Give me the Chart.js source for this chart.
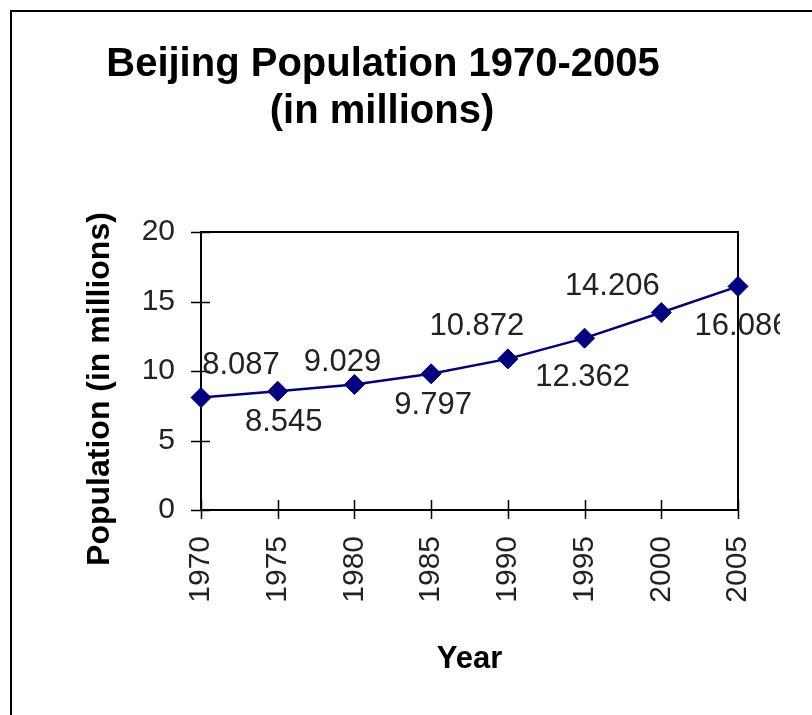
<!DOCTYPE html>
<html>
<head>
<meta charset="utf-8">
<script src="https://cdn.jsdelivr.net/npm/chart.js@4"></script>
<style>
    body { margin: 0; background: #fff; }
    canvas { display: block; }
</style>
</head>
<body>
<canvas id="popChart" width="812" height="715"></canvas>
<script>
const years = ['1970', '1975', '1980', '1985', '1990', '1995', '2000', '2005'];
const population = [8.087, 8.545, 9.029, 9.797, 10.872, 12.362, 14.206, 16.086];
const valueLabels = ['8.087', '8.545', '9.029', '9.797', '10.872', '12.362', '14.206', '16.086'];
const titleLines = ['Beijing Population 1970-2005', '(in millions)'];
const yTitle = 'Population (in millions)';
const xTitle = 'Year';

// hand-placed label nudges, like the original sheet (dx, dy from the point)
const labelNudge = [[40, -32], [6, 31], [-12, -22], [2, 32], [-31, -32], [-2, 39], [-49, -26], [4, 40]];

const textFont = '"Liberation Sans", Arial, sans-serif';

const framePlugin = {
    id: 'frame',
    beforeDraw(chart) {
        const ctx = chart.ctx;
        ctx.save();
        ctx.fillStyle = '#fff';
        ctx.fillRect(0, 0, chart.width, chart.height);
        // outer page border (left + top)
        ctx.fillStyle = '#000';
        ctx.fillRect(10, 10, 2, chart.height);
        ctx.fillRect(10, 10, chart.width, 2);
        ctx.restore();
    },
    beforeDatasetsDraw(chart) {
        const { ctx, chartArea: a, scales } = chart;
        ctx.save();
        ctx.strokeStyle = '#000';
        ctx.lineWidth = 2;
        ctx.beginPath();
        ctx.moveTo(a.left - 1, a.top);
        ctx.lineTo(a.right, a.top);
        ctx.lineTo(a.right, a.bottom);
        ctx.stroke();

        // cross ticks
        ctx.lineWidth = 1.5;
        ctx.beginPath();
        scales.y.ticks.forEach(t => {
            const py = Math.round(scales.y.getPixelForValue(t.value)) + 0.5;
            ctx.moveTo(a.left - 10, py);
            ctx.lineTo(a.left + 9, py);
        });
        years.forEach((yr, i) => {
            const px = Math.round(scales.x.getPixelForValue(i)) + 0.5;
            ctx.moveTo(px, a.bottom - 10);
            ctx.lineTo(px, a.bottom + 9);
        });
        ctx.stroke();
        ctx.restore();
    },
    afterDatasetsDraw(chart) {
        const ctx = chart.ctx;
        const meta = chart.getDatasetMeta(0);
        ctx.save();
        ctx.beginPath();
        ctx.rect(0, 0, 780, chart.height);
        ctx.clip();
        ctx.font = '31px ' + textFont;
        ctx.fillStyle = '#222';
        ctx.textAlign = 'center';
        ctx.textBaseline = 'middle';
        meta.data.forEach((pt, i) => {
            ctx.fillText(valueLabels[i], pt.x + labelNudge[i][0], pt.y + labelNudge[i][1]);
        });
        ctx.restore();
    },
    afterDraw(chart) {
        const { ctx, chartArea: a } = chart;
        ctx.save();
        ctx.fillStyle = '#000';
        ctx.textAlign = 'center';
        ctx.textBaseline = 'alphabetic';
        ctx.font = 'bold 40px ' + textFont;
        ctx.fillText(titleLines[0], 383, 76);
        ctx.fillText(titleLines[1], 382, 123);

        ctx.font = 'bold 31px ' + textFont;
        ctx.fillText(xTitle, (a.left + a.right) / 2, 668);

        ctx.font = 'bold 32px ' + textFont;
        ctx.translate(100, 389);
        ctx.rotate(-Math.PI / 2);
        ctx.textBaseline = 'middle';
        ctx.fillText(yTitle, 0, 0);
        ctx.restore();
    }
};

new Chart(document.getElementById('popChart'), {
    type: 'line',
    data: {
        labels: years,
        datasets: [{
            data: population,
            borderColor: '#000080',
            borderWidth: 2.5,
            backgroundColor: '#000080',
            pointStyle: 'rectRot',
            pointRadius: 10,
            pointBorderWidth: 1,
            pointBackgroundColor: '#000080',
            pointBorderColor: '#000080',
            tension: 0,
            fill: false,
            clip: false
        }]
    },
    options: {
        responsive: false,
        animation: false,
        events: [],
        layout: { padding: { top: 232, right: 74, left: 0, bottom: 0 } },
        plugins: {
            legend: { display: false },
            title: { display: false },
            tooltip: { enabled: false }
        },
        scales: {
            x: {
                offset: false,
                grid: { display: false },
                border: { display: true, color: '#000', width: 2 },
                ticks: {
                    minRotation: 90,
                    maxRotation: 90,
                    padding: 18,
                    color: '#222',
                    font: { family: textFont, size: 30 }
                },
                afterFit: scale => { scale.height = 205; }
            },
            y: {
                min: 0,
                max: 20,
                grid: { display: false },
                border: { display: true, color: '#000', width: 2 },
                ticks: {
                    stepSize: 5,
                    padding: 18,
                    color: '#222',
                    font: { family: textFont, size: 30 }
                },
                afterFit: scale => { scale.width = 201; }
            }
        }
    },
    plugins: [framePlugin]
});
</script>
</body>
</html>
